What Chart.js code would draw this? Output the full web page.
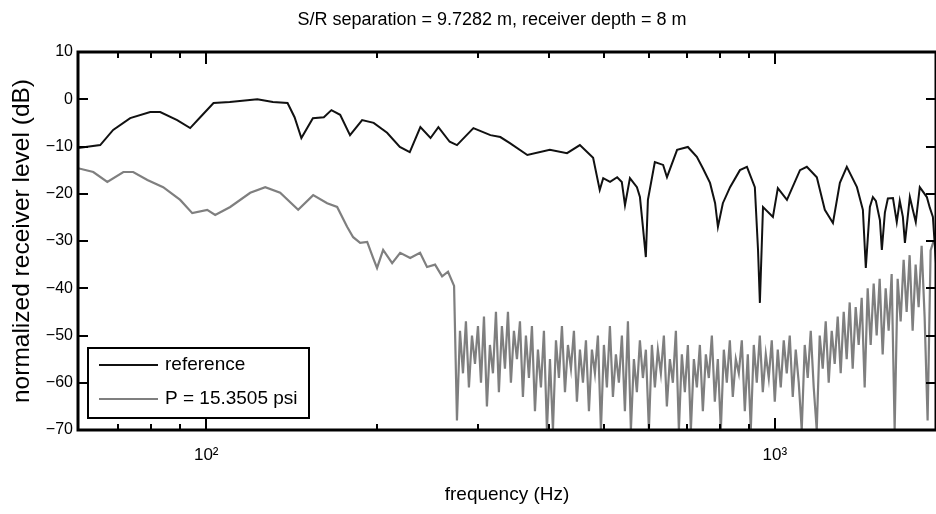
<!DOCTYPE html>
<html>
<head>
<meta charset="utf-8">
<script src="https://cdn.jsdelivr.net/npm/chart.js@4.4.1/dist/chart.umd.min.js"></script>
<style>
  html, body { margin: 0; padding: 0; background: #fff; }
  canvas { display: block; }
</style>
</head>
<body>
<canvas id="c" width="936" height="514"></canvas>
<script>
const FONT = '"Liberation Sans", Arial, Helvetica, sans-serif';

const titleText = 'S/R separation = 9.7282 m, receiver depth = 8 m';
const xTitle = 'frequency (Hz)';
const yTitle = 'normalized receiver level (dB)';
const seriesNames = ['reference', 'P = 15.3505 psi'];

// reference level (dB) versus frequency (Hz)
const refFreq = [
  59.5, 65.1, 68.6, 73.5, 79.7, 83.0, 88.9, 93.7, 97.6, 103,
  110, 123, 131, 139, 143, 147, 154, 161, 166, 172,
  179, 188, 197, 208, 219, 228, 238, 248, 256, 268,
  276, 295, 316, 329, 342, 367, 402, 431, 454, 479,
  492, 499, 513, 528, 538, 545, 556, 572, 579, 586,
  593, 598, 615, 636, 646, 673, 703, 729, 747, 769,
  785, 794, 810, 834, 868, 893, 922, 934, 941, 953,
  992, 1012, 1050, 1107, 1138, 1185, 1224, 1265, 1301, 1338,
  1394, 1428, 1445, 1469, 1487, 1505, 1530, 1542, 1561, 1580,
  1613, 1638, 1658, 1679, 1693, 1727, 1748, 1769, 1798, 1820,
  1850, 1873, 1896, 1920
];
const refLevel = [
  -10.3, -9.7, -6.5, -4.0, -2.7, -2.7, -4.4, -6.1, -3.8, -0.8,
  -0.6, 0.0, -0.6, -0.8, -3.8, -8.2, -4.0, -3.8, -2.3, -3.3,
  -7.6, -4.4, -5.0, -7.1, -10.1, -11.2, -5.9, -8.2, -5.9, -9.0,
  -9.7, -6.1, -7.6, -8.0, -9.3, -11.8, -10.7, -11.4, -9.7, -12.4,
  -19.2, -16.7, -17.5, -16.5, -17.5, -22.4, -16.7, -18.6, -20.7, -27.0,
  -33.4, -21.3, -13.3, -13.9, -16.5, -10.7, -10.1, -12.2, -14.6, -17.7,
  -22.0, -27.0, -22.0, -18.6, -15.0, -14.3, -18.6, -31.9, -43.1, -22.8,
  -24.9, -18.8, -21.3, -15.0, -14.3, -16.5, -23.4, -26.2, -17.7, -14.3,
  -18.6, -23.4, -35.7, -22.8, -20.7, -21.5, -25.6, -31.9, -24.0, -21.0,
  -20.9, -26.0, -21.5, -24.9, -30.4, -20.7, -23.4, -26.0, -18.6, -19.5,
  -20.7, -23.0, -24.9, -34.7
];

// level at P = 15.3505 psi
const pFreq = [
  59.5, 63.3, 67.0, 71.5, 74.4, 78.8, 84.0, 90.0, 94.5, 100.4,
  103.7, 110.2, 119.5, 127.0, 134.9, 145.1, 154.2, 163.2, 169.9, 176.9,
  181.3, 186.5, 191.9, 196.6, 199.7, 204.7, 212.3, 219.3, 228.4, 237.7,
  244.5, 252.6, 259.9, 266.2, 272.8,
  276.0, 279.4, 282.8, 286.2, 289.7, 293.3, 296.9, 300.5, 304.2, 307.9,
  311.6, 315.4, 319.3, 323.2, 327.1, 331.1, 335.2, 339.3, 343.4, 347.6,
  351.9, 356.2, 360.5, 364.9, 369.4, 373.9, 378.5, 383.1, 387.8, 392.5,
  397.3, 402.2, 407.1, 412.1, 417.1, 422.2, 427.4, 432.6, 437.9, 443.2,
  448.6, 454.1, 459.7, 465.3, 471.0, 476.7, 482.5, 488.4, 494.4, 500.4,
  506.5, 512.7, 519.0, 525.3, 531.7, 538.2, 544.8, 551.5, 558.2, 565.0,
  571.9, 578.9, 586.0, 593.1, 600.4, 607.7, 615.1, 622.6, 630.2, 637.9,
  645.7, 653.6, 661.6, 669.7, 677.9, 686.1, 694.5, 703.0, 711.6, 720.3,
  729.1, 738.0, 747.0, 756.1, 765.3, 774.7, 784.1, 793.7, 803.4, 813.2,
  823.1, 833.2, 843.3, 853.6, 864.0, 874.6, 885.3, 896.1, 907.0, 918.1,
  929.3, 940.7, 952.2, 963.8, 975.5, 987.4, 999.5, 1011.7, 1024.0, 1036.5,
  1049.2, 1062.0, 1075.0, 1088.1, 1101.4, 1114.8, 1128.4, 1142.2, 1156.2, 1170.3,
  1184.6, 1199.0, 1213.7, 1228.5, 1243.5, 1258.7, 1274.0, 1289.6, 1305.3, 1321.3,
  1337.4, 1353.7, 1370.3, 1387.0, 1403.9, 1421.1, 1438.4, 1456.0, 1473.8, 1491.8,
  1510.0, 1528.4, 1547.1, 1566.0, 1585.1, 1604.4, 1624.0, 1643.8, 1663.9, 1684.2,
  1704.8, 1725.6, 1746.7, 1768.0, 1789.6, 1811.4, 1833.5, 1855.9, 1878.6, 1901.5
];
const pLevel = [
  -14.6, -15.4, -17.5, -15.4, -15.4, -17.1, -18.6, -21.3, -24.1, -23.4,
  -24.5, -22.8, -19.8, -18.6, -19.8, -23.4, -20.3, -22.0, -22.8, -27.0,
  -29.2, -30.4, -30.2, -33.6, -35.7, -31.9, -34.7, -32.5, -33.6, -32.5,
  -35.5, -35.0, -37.5, -36.5, -39.5,
  -68, -49, -58, -47, -61, -50, -56, -48, -60, -46,
  -65, -52, -58, -45, -62, -48, -57, -45, -60, -49,
  -55, -47, -63, -50, -59, -48, -66, -53, -61, -49,
  -70, -55, -70, -51, -59, -48, -62, -52, -57, -49,
  -64, -53, -60, -51, -66, -53, -58, -50, -70, -52,
  -61, -48, -63, -54, -60, -50, -66, -47, -70, -55,
  -62, -51, -59, -53, -70, -52, -61, -53, -58, -50,
  -65, -55, -60, -49, -70, -54, -62, -52, -70, -55,
  -61, -52, -66, -54, -59, -50, -64, -55, -70, -53,
  -60, -51, -63, -55, -58, -51, -66, -54, -70, -52,
  -60, -50, -62, -54, -59, -51, -64, -53, -61, -51,
  -58, -50, -63, -53, -60, -70, -52, -59, -49, -61,
  -70, -50, -57, -47, -60, -49, -56, -46, -58, -45,
  -55, -43, -57, -44, -52, -42, -61, -40, -52, -39,
  -50, -38, -54, -40, -49, -37, -70, -38, -47, -34,
  -45, -33, -49, -35, -44, -31, -46, -68, -32, -30
];

const xTickValues = [70, 80, 90, 100, 200, 300, 400, 500, 600, 700, 800, 900, 1000];
const xTickLabels = { 100: '10\u00B2', 1000: '10\u00B3' };
const yTickValues = [-70, -60, -50, -40, -30, -20, -10, 0, 10];

const toPoints = (xs, ys) => xs.map((x, i) => ({ x, y: ys[i] }));

// Title line above the axes
const plotTitle = {
  id: 'plotTitle',
  afterDraw(chart) {
    const { ctx } = chart;
    ctx.save();
    ctx.fillStyle = '#000';
    ctx.font = '18px ' + FONT;
    ctx.textAlign = 'center';
    ctx.textBaseline = 'middle';
    ctx.fillText(titleText, 492, 20);
    ctx.restore();
  }
};

// Boxed axes with inward-pointing tick marks on all four sides
const axesBox = {
  id: 'axesBox',
  afterDatasetsDraw(chart) {
    const { ctx, chartArea: a, scales: { x, y } } = chart;
    ctx.save();
    ctx.strokeStyle = '#000';
    ctx.lineWidth = 2;
    ctx.beginPath();
    x.ticks.forEach(t => {
      const px = Math.round(x.getPixelForValue(t.value));
      const len = xTickLabels[t.value] ? 12 : 6;
      ctx.moveTo(px, a.bottom); ctx.lineTo(px, a.bottom - len);
      ctx.moveTo(px, a.top); ctx.lineTo(px, a.top + len);
    });
    y.ticks.forEach(t => {
      const py = Math.round(y.getPixelForValue(t.value));
      ctx.moveTo(a.left, py); ctx.lineTo(a.left + 10, py);
      ctx.moveTo(a.right, py); ctx.lineTo(a.right - 10, py);
    });
    ctx.stroke();
    ctx.lineWidth = 3;
    ctx.strokeRect(a.left, a.top, a.right - a.left, a.bottom - a.top);
    ctx.restore();
  }
};

// Legend drawn inside the lower-left corner of the plot
const insetLegend = {
  id: 'insetLegend',
  afterDraw(chart) {
    const { ctx } = chart;
    const L = 88, T = 348, W = 221, H = 70;
    ctx.save();
    ctx.fillStyle = '#fff';
    ctx.fillRect(L, T, W, H);
    ctx.lineWidth = 2;
    ctx.strokeStyle = '#000';
    ctx.strokeRect(L, T, W, H);
    chart.data.datasets.forEach((ds, i) => {
      const yy = T + 17 + i * 34;
      ctx.strokeStyle = ds.borderColor;
      ctx.lineWidth = 2;
      ctx.beginPath();
      ctx.moveTo(L + 11, yy);
      ctx.lineTo(L + 70, yy);
      ctx.stroke();
      ctx.fillStyle = '#000';
      ctx.font = '19px ' + FONT;
      ctx.textBaseline = 'middle';
      ctx.fillText(ds.label, L + 77, yy);
    });
    ctx.restore();
  }
};

new Chart(document.getElementById('c'), {
  type: 'line',
  data: {
    datasets: [
      {
        label: seriesNames[0],
        data: toPoints(refFreq, refLevel),
        borderColor: '#111',
        borderWidth: 2,
        pointRadius: 0,
        tension: 0,
        fill: false
      },
      {
        label: seriesNames[1],
        data: toPoints(pFreq, pLevel),
        borderColor: '#7f7f7f',
        borderWidth: 2.2,
        pointRadius: 0,
        tension: 0,
        fill: false
      }
    ]
  },
  options: {
    responsive: false,
    animation: false,
    events: [],
    layout: { padding: { top: 52, left: 0, right: 0, bottom: 0 } },
    plugins: {
      legend: { display: false },
      tooltip: { enabled: false },
      title: { display: false }
    },
    scales: {
      x: {
        type: 'logarithmic',
        min: 59.5,
        max: 1920,
        afterBuildTicks: s => { s.ticks = xTickValues.map(v => ({ value: v })); },
        afterFit: s => { s.height = 84; },
        grid: { display: false, drawTicks: false },
        border: { display: false },
        ticks: {
          autoSkip: false,
          maxRotation: 0,
          padding: 15,
          color: '#000',
          font: { family: FONT, size: 17 },
          callback: v => xTickLabels[v] || ''
        },
        title: {
          display: true,
          text: xTitle,
          color: '#000',
          font: { family: FONT, size: 19 },
          padding: { top: 0, bottom: 8 }
        }
      },
      y: {
        min: -70,
        max: 10,
        afterBuildTicks: s => { s.ticks = yTickValues.map(v => ({ value: v })); },
        afterFit: s => { s.width = 78; },
        grid: { display: false, drawTicks: false },
        border: { display: false },
        ticks: {
          padding: 5,
          color: '#000',
          font: { family: FONT, size: 16 },
          callback: v => (v < 0 ? '\u2212' + (-v) : String(v))
        },
        title: {
          display: true,
          text: yTitle,
          color: '#000',
          font: { family: FONT, size: 24.5 },
          padding: { top: 8, bottom: 0 }
        }
      }
    }
  },
  plugins: [axesBox, insetLegend, plotTitle]
});
</script>
</body>
</html>
